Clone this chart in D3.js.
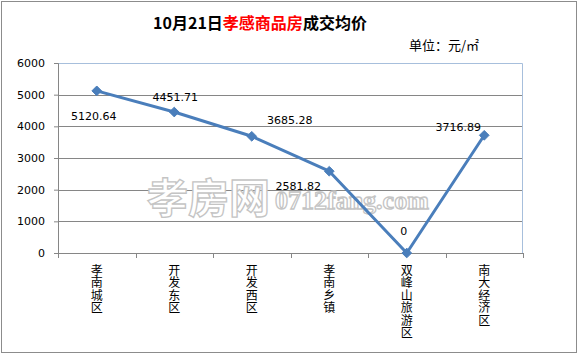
<!DOCTYPE html>
<html>
<head>
<meta charset="utf-8">
<script src="https://cdn.jsdelivr.net/npm/d3@7"></script>
<style>
  body { margin: 0; background: #fff; }
  svg text { font-family: "DejaVu Sans", Verdana, sans-serif; }
</style>
</head>
<body>
<div id="chart"></div>
<script>
const districts = ['孝南城区', '开发东区', '开发西区', '孝南乡镇', '双峰山旅游区', '南大经济区'];
const prices = [5120.64, 4451.71, 3685.28, 2581.82, 0, 3716.89];
const priceLabels = ['5120.64', '4451.71', '3685.28', '2581.82', '0', '3716.89'];
const yTicks = [0, 1000, 2000, 3000, 4000, 5000, 6000];

// label offsets relative to the point (Excel put them all over the place)
const labelOffsets = [[-3, 25], [1, -15], [38, -16], [-31, 15], [-3, -22], [-26, -8]];

const W = 578, H = 354;
const margin = { top: 63, right: 55, bottom: 101, left: 58 };
const width = W - margin.left - margin.right;
const height = H - margin.top - margin.bottom;

const svg = d3.select('#chart').append('svg')
  .attr('width', W)
  .attr('height', H);

// outer chart border
svg.append('rect')
  .attr('x', 1.5).attr('y', 1.5)
  .attr('width', W - 3).attr('height', H - 3)
  .attr('fill', '#fff')
  .attr('stroke', '#8c8c8c');

const title = svg.append('text')
  .attr('x', 260)
  .attr('y', 29)
  .attr('text-anchor', 'middle')
  .style('font-family', '"Noto Sans CJK SC", sans-serif')
  .style('font-size', '16px')
  .style('font-weight', 'bold');
title.append('tspan').attr('fill', '#000').text('10月21日');
title.append('tspan').attr('fill', '#ff0000').text('孝感商品房');
title.append('tspan').attr('fill', '#000').text('成交均价');

svg.append('text')
  .attr('x', 479)
  .attr('y', 50)
  .attr('text-anchor', 'end')
  .style('font-family', '"Noto Sans CJK SC", sans-serif')
  .style('font-size', '13px')
  .text('单位：元/㎡');

const g = svg.append('g')
  .attr('transform', `translate(${margin.left},${margin.top})`);

const x = d3.scaleBand()
  .domain(districts)
  .range([0, width]);

const y = d3.scaleLinear()
  .domain([0, 6000])
  .range([height, 0]);

// gridlines
g.append('g')
  .selectAll('line')
  .data(yTicks.slice(1, -1))
  .join('line')
    .attr('x1', 0).attr('x2', width)
    .attr('y1', d => Math.round(y(d)) + 0.5)
    .attr('y2', d => Math.round(y(d)) + 0.5)
    .attr('stroke', '#868686');

// plot border top / right
g.append('path')
  .attr('d', `M0,0.5H${width - 0.5}V${height}`)
  .attr('fill', 'none')
  .attr('stroke', '#a7bfdc');

// watermark
const wm = g.append('g')
  .attr('fill', '#fff')
  .attr('stroke', '#c4c4c4')
  .attr('stroke-width', 1.3);
wm.append('text')
  .attr('x', 89)
  .attr('y', 150)
  .style('font-family', '"Noto Sans CJK SC", sans-serif')
  .style('font-size', '41px')
  .style('font-weight', 'bold')
  .style('letter-spacing', '0px')
  .text('孝房网');
wm.append('text')
  .attr('x', 217)
  .attr('y', 146)
  .style('font-family', '"Liberation Serif", serif')
  .style('font-size', '26px')
  .style('font-weight', 'bold')
  .text('0712fang.com');

// axes
const yAxis = g.append('g')
  .call(d3.axisLeft(y).tickValues(yTicks).tickFormat(d3.format('d')).tickSize(4).tickPadding(9));
yAxis.select('.domain').attr('stroke', '#868686');
yAxis.selectAll('.tick line').attr('stroke', '#868686');
yAxis.selectAll('.tick text')
  .style('font-size', '11px')
  .attr('fill', '#000');

const xAxis = g.append('g')
  .attr('transform', `translate(0,${height})`);
xAxis.append('line')
  .attr('x1', 0).attr('x2', width)
  .attr('y1', 0.5).attr('y2', 0.5)
  .attr('stroke', '#868686');
xAxis.selectAll('.xtick')
  .data(d3.range(districts.length + 1))
  .join('line')
    .attr('class', 'xtick')
    .attr('x1', i => Math.round(i * x.bandwidth()) + 0.5)
    .attr('x2', i => Math.round(i * x.bandwidth()) + 0.5)
    .attr('y1', 0).attr('y2', 5)
    .attr('stroke', '#868686');

// vertical (stacked) category labels
xAxis.selectAll('.xlabel')
  .data(districts)
  .join('text')
    .attr('class', 'xlabel')
    .attr('x', d => x(d) + x.bandwidth() / 2)
    .attr('y', 11)
    .style('writing-mode', 'vertical-rl')
    .style('text-orientation', 'upright')
    .style('letter-spacing', '0.5px')
    .style('font-family', '"Noto Sans CJK SC", sans-serif')
    .style('font-size', '12px')
    .attr('fill', '#000')
    .text(d => d);

// line + markers
const pts = districts.map((d, i) => ({ name: d, value: prices[i], label: priceLabels[i], off: labelOffsets[i] }));

g.append('path')
  .datum(pts)
  .attr('fill', 'none')
  .attr('stroke', '#4a7ebb')
  .attr('stroke-width', 3)
  .attr('stroke-linejoin', 'round')
  .attr('d', d3.line()
    .x(d => x(d.name) + x.bandwidth() / 2)
    .y(d => y(d.value)));

g.selectAll('.marker')
  .data(pts)
  .join('path')
    .attr('class', 'marker')
    .attr('d', d3.symbol(d3.symbolDiamond2, 60)())
    .attr('transform', d => `translate(${x(d.name) + x.bandwidth() / 2},${y(d.value)})`)
    .attr('fill', '#4a7ebb')
    .attr('stroke', '#4a7ebb');

g.selectAll('.dlabel')
  .data(pts)
  .join('text')
    .attr('class', 'dlabel')
    .attr('x', d => x(d.name) + x.bandwidth() / 2 + d.off[0])
    .attr('y', d => y(d.value) + d.off[1] + 4)
    .attr('text-anchor', 'middle')
    .style('font-size', '11px')
    .attr('fill', '#000')
    .text(d => d.label);
</script>
</body>
</html>
